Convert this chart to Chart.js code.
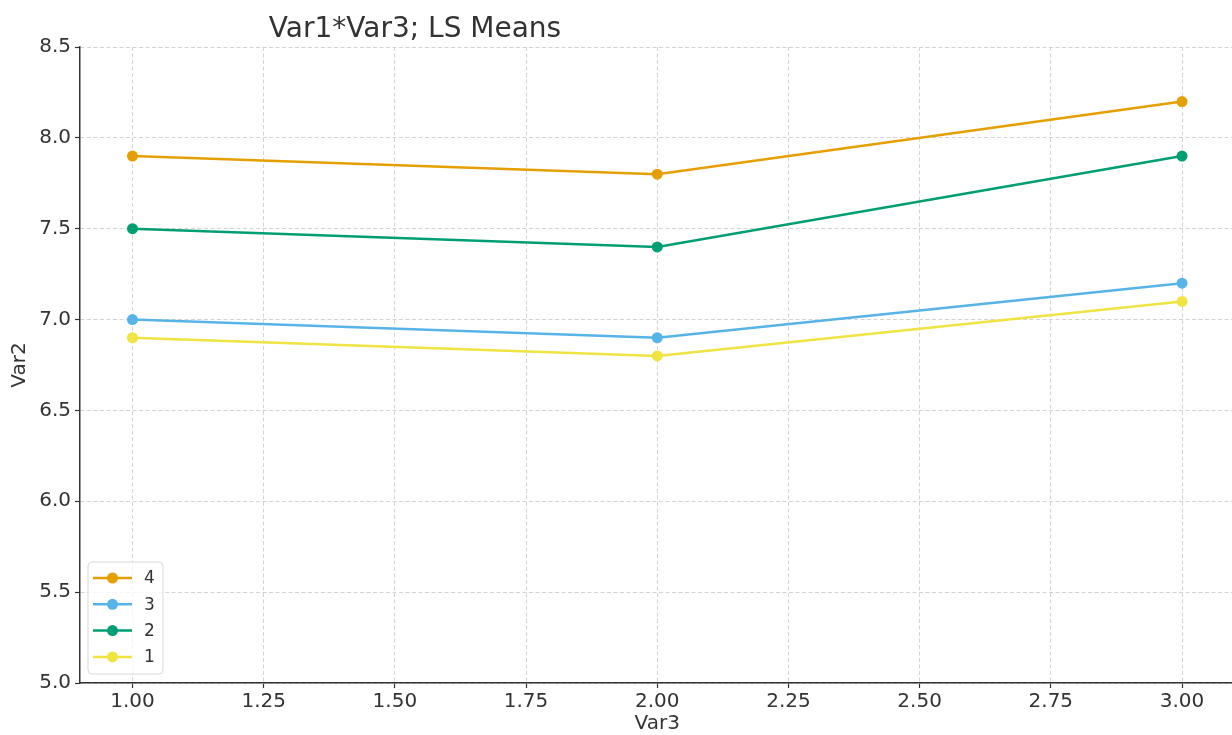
<!DOCTYPE html>
<html>
<head>
<meta charset="utf-8">
<title>Var1*Var3; LS Means</title>
<script src="https://cdn.jsdelivr.net/npm/chart.js@4/dist/chart.umd.min.js"></script>
<style>
  html, body { margin: 0; padding: 0; background: #fff; overflow: hidden; }
  #wrap { position: relative; width: 1240px; height: 735px; }
  #c { display: block; }
</style>
</head>
<body>
<div id="wrap"><canvas id="c" width="1240" height="735"></canvas></div>
<script>
// Var3 levels on the x axis
const var3Levels = [1, 2, 3];
// LS means of Var2 for each Var1 group
const group4 = [7.9, 7.8, 8.2];
const group3 = [7.0, 6.9, 7.2];
const group2 = [7.5, 7.4, 7.9];
const group1 = [6.9, 6.8, 7.1];
const groupNames = ['4', '3', '2', '1'];
const groupColors = ['#E69F00', '#56B4E9', '#009E73', '#F0E442'];
// Tick labels
const xTicks = [1.00, 1.25, 1.50, 1.75, 2.00, 2.25, 2.50, 2.75, 3.00];
const yTicks = [5.0, 5.5, 6.0, 6.5, 7.0, 7.5, 8.0, 8.5];

const FONT = "'DejaVu Sans', sans-serif";
const TEXT = '#333333';

const series = [group4, group3, group2, group1];
const datasets = series.map((vals, i) => ({
  label: groupNames[i],
  data: vals.map((v, j) => ({ x: var3Levels[j], y: v })),
  borderColor: groupColors[i],
  backgroundColor: groupColors[i],
  borderWidth: 2.5,
  pointRadius: 5.5,
  pointHoverRadius: 5.5,
  pointBorderWidth: 0,
  tension: 0
}));

// Title placed over the left part of the plot
const titlePlugin = {
  id: 'plotTitle',
  afterDraw(chart) {
    const ctx = chart.ctx;
    const a = chart.chartArea;
    ctx.save();
    ctx.fillStyle = TEXT;
    ctx.font = "28px " + FONT;
    ctx.textAlign = 'center';
    ctx.textBaseline = 'alphabetic';
    ctx.fillText('Var1*Var3; LS Means', a.left + 335, 37);
    ctx.restore();
  }
};

// Legend boxed in the lower-left corner of the plot
const innerLegend = {
  id: 'innerLegend',
  afterDraw(chart) {
    const ctx = chart.ctx;
    const a = chart.chartArea;
    const x0 = a.left + 8, w = 75, h = 112;
    const y0 = a.bottom - 9 - h;
    ctx.save();
    ctx.beginPath();
    if (ctx.roundRect) ctx.roundRect(x0, y0, w, h, 4); else ctx.rect(x0, y0, w, h);
    ctx.fillStyle = 'rgba(255,255,255,0.8)';
    ctx.fill();
    ctx.strokeStyle = '#d9d9d9';
    ctx.lineWidth = 1;
    ctx.stroke();
    chart.data.datasets.forEach((ds, i) => {
      const cy = y0 + 16 + i * 26.3;
      ctx.strokeStyle = ds.borderColor;
      ctx.lineWidth = 2.5;
      ctx.beginPath();
      ctx.moveTo(x0 + 5, cy);
      ctx.lineTo(x0 + 44, cy);
      ctx.stroke();
      ctx.fillStyle = ds.backgroundColor;
      ctx.beginPath();
      ctx.arc(x0 + 24.5, cy, 5.5, 0, Math.PI * 2);
      ctx.fill();
      ctx.fillStyle = TEXT;
      ctx.font = "17px " + FONT;
      ctx.textAlign = 'left';
      ctx.textBaseline = 'middle';
      ctx.fillText(ds.label, x0 + 56, cy + 1);
    });
    ctx.restore();
  }
};

const gridCommon = {
  color: '#cfcfcf',
  lineWidth: 0.9,
  drawTicks: true,
  tickLength: 5,
  tickColor: '#333333',
  tickWidth: 1.2,
  tickBorderDash: []
};
const borderCommon = { display: true, color: '#333333', width: 1.5, dash: [4, 2.5] };

new Chart(document.getElementById('c'), {
  type: 'line',
  data: { datasets },
  options: {
    responsive: false,
    animation: false,
    devicePixelRatio: 1,
    layout: { padding: { left: 0, right: 1, top: 47, bottom: 0 } },
    plugins: {
      legend: { display: false },
      title: { display: false },
      tooltip: { enabled: false }
    },
    scales: {
      x: {
        type: 'linear',
        min: 0.9,
        max: 3.1,
        afterBuildTicks(scale) { scale.ticks = xTicks.map(v => ({ value: v })); },
        afterFit(scale) { scale.height = 52; },
        grid: gridCommon,
        border: borderCommon,
        ticks: {
          color: TEXT,
          font: { family: FONT, size: 20 },
          padding: 2,
          maxRotation: 0,
          autoSkip: false,
          callback: v => Number(v).toFixed(2)
        },
        title: {
          display: true,
          text: 'Var3',
          color: TEXT,
          font: { family: FONT, size: 20 },
          padding: { top: 0, bottom: -1 }
        }
      },
      y: {
        type: 'linear',
        min: 5.0,
        max: 8.5,
        afterBuildTicks(scale) { scale.ticks = yTicks.map(v => ({ value: v })); },
        afterFit(scale) { scale.width = 80; },
        grid: gridCommon,
        border: borderCommon,
        ticks: {
          color: TEXT,
          font: { family: FONT, size: 20 },
          padding: 4,
          autoSkip: false,
          callback: v => Number(v).toFixed(1)
        },
        title: {
          display: true,
          text: 'Var2',
          color: TEXT,
          font: { family: FONT, size: 20 },
          padding: { top: 8, bottom: 0 }
        }
      }
    }
  },
  plugins: [titlePlugin, innerLegend]
});
</script>
</body>
</html>
